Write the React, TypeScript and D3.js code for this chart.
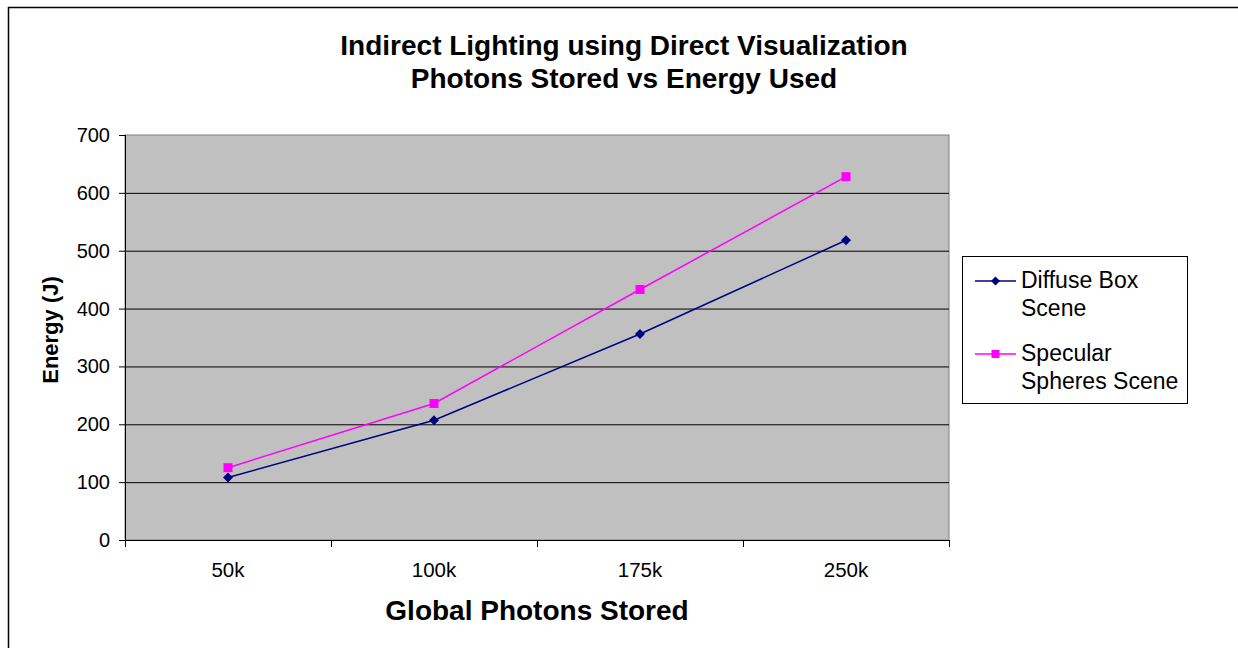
import React from "react";
import * as d3 from "d3";

const categories = ["50k", "100k", "175k", "250k"];
const diffuse = [108, 207, 356, 518];
const specular = [125, 236, 433, 628];
const yTicks = [0, 100, 200, 300, 400, 500, 600, 700];
const seriesNames = [["Diffuse Box", "Scene"], ["Specular", "Spheres Scene"]];

export default function App() {
  const W = 1238, H = 648;
  const left = 125, right = 949, top = 135, bottom = 540;
  const x = d3.scaleBand().domain(categories).range([left, right]);
  const y = d3.scaleLinear().domain([0, 700]).range([bottom, top]);
  const line = d3.line<number>().x((_, i) => x(categories[i])! + x.bandwidth() / 2).y((d) => y(d));
  const font = "Liberation Sans, Arial, sans-serif";
  const cx = (i: number) => x(categories[i])! + x.bandwidth() / 2;
  return (
    <svg width={W} height={H} style={{ position: "absolute", left: 0, top: 0 }} fontFamily={font}>
      <rect x={0} y={0} width={W} height={H} fill="#fff" />
      <path d={`M8.5,${H} V7.5 H${W}`} fill="none" stroke="#000" strokeWidth={1.5} />
      <text x={624} y={55} textAnchor="middle" fontSize={28} fontWeight="bold">Indirect Lighting using Direct Visualization</text>
      <text x={624} y={88} textAnchor="middle" fontSize={28} fontWeight="bold">Photons Stored vs Energy Used</text>
      <rect x={left} y={top} width={right - left} height={bottom - top} fill="#C0C0C0" stroke="#808080" strokeWidth={1} />
      {yTicks.filter((t) => t > 0 && t < 700).map((t) => (
        <line key={t} x1={left} x2={right} y1={y(t) + 0.5} y2={y(t) + 0.5} stroke="#000" strokeWidth={1} />
      ))}
      <line x1={left + 0.5} x2={left + 0.5} y1={top} y2={bottom} stroke="#000" />
      <line x1={left} x2={right + 1} y1={bottom + 0.5} y2={bottom + 0.5} stroke="#000" />
      {yTicks.map((t) => (
        <g key={t}>
          <line x1={left - 6} x2={left} y1={y(t) + 0.5} y2={y(t) + 0.5} stroke="#000" />
          <text x={110} y={y(t) + 7} textAnchor="end" fontSize={20}>{t}</text>
        </g>
      ))}
      {[...categories.map((c) => x(c)!), right].map((v, i) => (
        <line key={i} x1={v + 0.5} x2={v + 0.5} y1={bottom} y2={bottom + 7} stroke="#000" />
      ))}
      {categories.map((c, i) => (
        <text key={c} x={cx(i)} y={577} textAnchor="middle" fontSize={20.5}>{c}</text>
      ))}
      <text x={537} y={620} textAnchor="middle" fontSize={28} fontWeight="bold">Global Photons Stored</text>
      <text transform={`translate(58,330) rotate(-90)`} textAnchor="middle" fontSize={22} fontWeight="bold">Energy (J)</text>
      <path d={line(diffuse)!} fill="none" stroke="#000080" strokeWidth={1.5} />
      <path d={line(specular)!} fill="none" stroke="#FF00FF" strokeWidth={1.5} />
      {diffuse.map((v, i) => (
        <path key={i} d={`M${cx(i)},${y(v) - 5}L${cx(i) + 5},${y(v)}L${cx(i)},${y(v) + 5}L${cx(i) - 5},${y(v)}Z`} fill="#000080" />
      ))}
      {specular.map((v, i) => (
        <rect key={i} x={cx(i) - 4.5} y={y(v) - 4.5} width={9} height={9} fill="#FF00FF" />
      ))}
      <rect x={962.5} y={256.5} width={225} height={147} fill="#fff" stroke="#000" />
      <line x1={975} x2={1016} y1={281} y2={281} stroke="#000080" strokeWidth={1.5} />
      <path d="M995.5,276.5L1000,281L995.5,285.5L991,281Z" fill="#000080" />
      <line x1={975} x2={1016} y1={354} y2={354} stroke="#FF00FF" strokeWidth={1.5} />
      <rect x={991.5} y={350} width={8} height={8} fill="#FF00FF" />
      <text x={1021} y={288} fontSize={23}>{seriesNames[0][0]}</text>
      <text x={1021} y={316} fontSize={23}>{seriesNames[0][1]}</text>
      <text x={1021} y={361} fontSize={23}>{seriesNames[1][0]}</text>
      <text x={1021} y={389} fontSize={23}>{seriesNames[1][1]}</text>
    </svg>
  );
}
